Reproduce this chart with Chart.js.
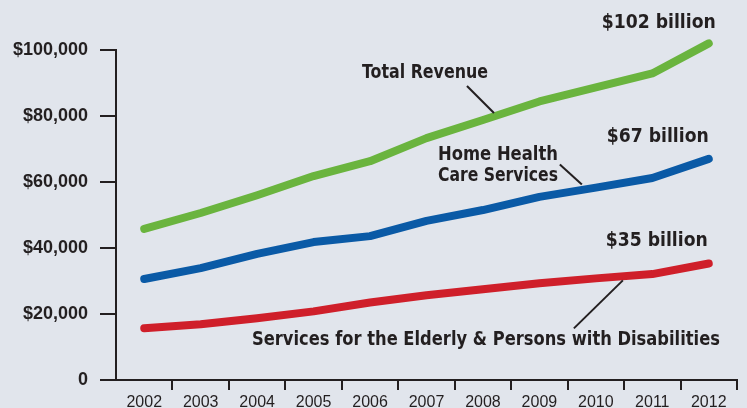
<!DOCTYPE html>
<html>
<head>
<meta charset="utf-8">
<script src="https://cdn.jsdelivr.net/npm/chart.js@4"></script>
<style>
  html, body { margin: 0; padding: 0; background: #e1e5ec; }
  #wrap { width: 747px; height: 408px; position: relative; }
</style>
</head>
<body>
<div id="wrap"><canvas id="revenueChart" width="747" height="408"></canvas></div>
<script>
// values in $ thousands
const years = ['2002', '2003', '2004', '2005', '2006', '2007', '2008', '2009', '2010', '2011', '2012'];
const totalRevenue = [45800, 50600, 56000, 61800, 66300, 73300, 78800, 84400, 88700, 92900, 102000];
const homeHealth = [30600, 33900, 38200, 41800, 43600, 48200, 51500, 55500, 58300, 61200, 67000];
const elderlyServices = [15700, 16900, 18700, 20800, 23500, 25700, 27500, 29300, 30800, 32100, 35300];
const yTicks = [0, 20000, 40000, 60000, 80000, 100000];

const ink = '#231f20';
const condensed = "'Liberation Sans Narrow', 'DejaVu Sans Condensed', 'Arial Narrow', sans-serif";
const plain = "'Liberation Sans', Arial, sans-serif";

// callouts: text drawn next to a data point (index, value) with pixel offsets
const callouts = [
  { lines: ['$102 billion'], idx: 10, val: 102000, dx: -50, dy: -21, width: 114, size: 20 },
  { lines: ['Total Revenue'], idx: 4, val: 66300, dx: 55, dy: -88, width: 126, size: 19 },
  { lines: ['$67 billion'], idx: 10, val: 67000, dx: -51, dy: -22, width: 102, size: 20 },
  { lines: ['Home Health', 'Care Services'], idx: 6, val: 51500, dx: 15, dy: -55, width: 120, size: 19, gap: 21 },
  { lines: ['$35 billion'], idx: 10, val: 35300, dx: -52, dy: -23, width: 102, size: 20 },
  { lines: ['Services for the Elderly & Persons with Disabilities'], idx: 6, val: 27500, dx: 3, dy: 51, width: 468, size: 19 }
];

// leader lines: from a point near the label to the line, offsets from a data point
const leaders = [
  { idx: 6, val: 78800, from: [-16, -34], to: [11, -7] },
  { idx: 8, val: 58300, from: [-36, -23], to: [-14, -3] },
  { idx: 8, val: 30800, from: [-22, 50], to: [27, 2] }
];

const annotate = {
  id: 'annotate',
  afterDatasetsDraw(chart) {
    const ctx = chart.ctx;
    const xs = chart.scales.x, ys = chart.scales.y;
    ctx.save();
    ctx.strokeStyle = ink;
    ctx.lineWidth = 2;
    leaders.forEach(l => {
      const px = xs.getPixelForValue(l.idx), py = ys.getPixelForValue(l.val);
      ctx.beginPath();
      ctx.moveTo(px + l.from[0], py + l.from[1]);
      ctx.lineTo(px + l.to[0], py + l.to[1]);
      ctx.stroke();
    });
    ctx.fillStyle = ink;
    ctx.textAlign = 'center';
    ctx.textBaseline = 'middle';
    callouts.forEach(c => {
      const px = xs.getPixelForValue(c.idx) + c.dx;
      const py = ys.getPixelForValue(c.val) + c.dy;
      ctx.font = 'bold ' + c.size + 'px ' + condensed;
      c.lines.forEach((t, i) => {
        ctx.fillText(t, px, py + i * (c.gap || 0), c.width);
      });
    });
    ctx.restore();
  }
};

function lineSet(label, data, color) {
  return {
    label: label,
    data: data,
    borderColor: color,
    borderWidth: 8,
    borderCapStyle: 'round',
    borderJoinStyle: 'round',
    pointRadius: 0,
    tension: 0,
    clip: false
  };
}

new Chart(document.getElementById('revenueChart'), {
  type: 'line',
  data: {
    labels: years,
    datasets: [
      lineSet('Total Revenue', totalRevenue, '#6ab43e'),
      lineSet('Home Health Care Services', homeHealth, '#0a5aa6'),
      lineSet('Services for the Elderly & Persons with Disabilities', elderlyServices, '#cf1f2a')
    ]
  },
  options: {
    responsive: false,
    animation: false,
    layout: { padding: { top: 50, right: 10, left: 0, bottom: 0 } },
    plugins: { legend: { display: false }, tooltip: { enabled: false } },
    scales: {
      x: {
        offset: true,
        grid: {
          offset: true, drawOnChartArea: false, drawTicks: true, tickLength: 10, lineWidth: 2,
          color: c => c.index === 0 ? 'rgba(0,0,0,0)' : ink
        },
        border: { display: true, color: ink, width: 2 },
        ticks: { color: ink, padding: 3, font: { family: plain, size: 16 }, maxRotation: 0, autoSkip: false },
        afterFit: s => { s.height = 28; }
      },
      y: {
        min: 0,
        max: 100000,
        afterBuildTicks: s => { s.ticks = yTicks.map(v => ({ value: v })); },
        grid: { drawOnChartArea: false, drawTicks: true, tickLength: 16, color: ink, lineWidth: 2 },
        border: { display: true, color: ink, width: 2 },
        ticks: {
          color: ink,
          padding: 12,
          font: { family: plain, size: 18, weight: 'bold' },
          callback: v => v === 0 ? '0' : '$' + v.toLocaleString('en-US')
        },
        afterFit: s => { s.width = 116; }
      }
    }
  },
  plugins: [annotate]
});
</script>
</body>
</html>
